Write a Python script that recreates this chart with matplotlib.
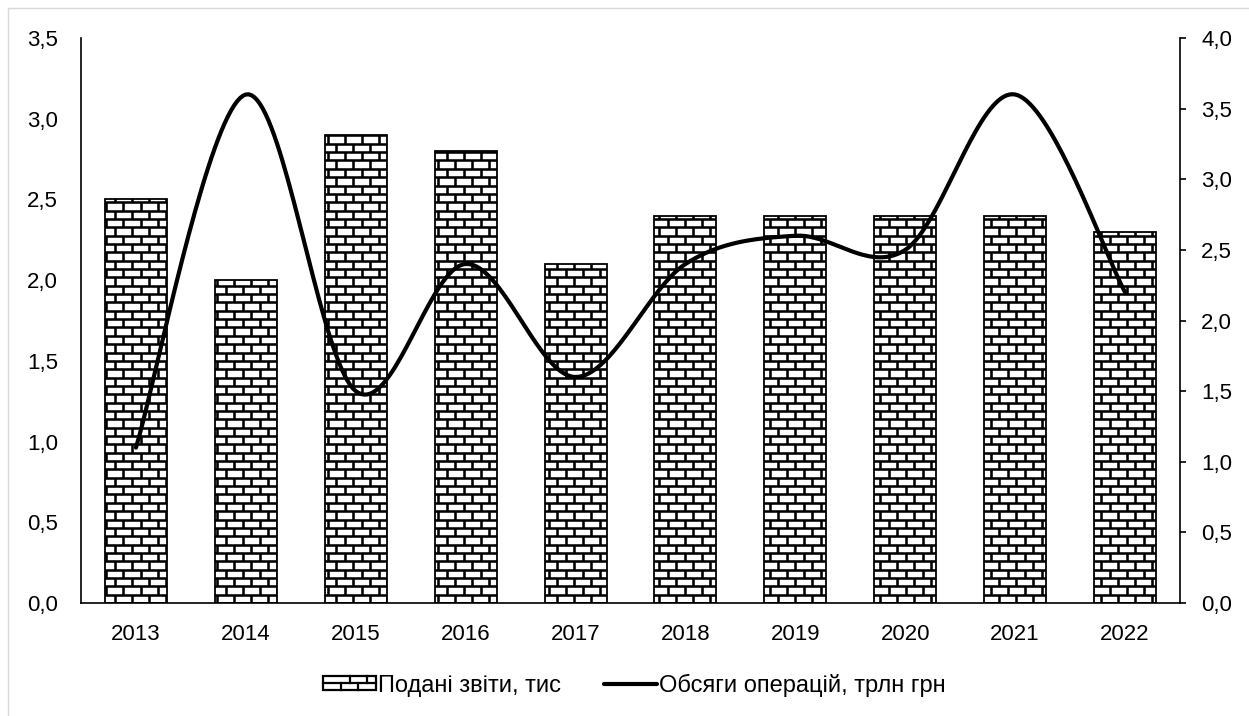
import matplotlib

matplotlib.use("Agg")
import matplotlib.pyplot as plt
import numpy as np
from matplotlib.collections import LineCollection
from matplotlib.legend_handler import HandlerBase
from matplotlib.lines import Line2D
from matplotlib.patches import Rectangle
from matplotlib.transforms import IdentityTransform

plt.rcParams["font.family"] = ["Liberation Sans", "DejaVu Sans"]

years = ["2013", "2014", "2015", "2016", "2017", "2018", "2019", "2020", "2021", "2022"]
reports = [2.5, 2.0, 2.9, 2.8, 2.1, 2.4, 2.4, 2.4, 2.4, 2.3]
volumes = [1.1, 3.6, 1.5, 2.4, 1.6, 2.4, 2.6, 2.5, 3.6, 2.2]

left_ticks = [0.0, 0.5, 1.0, 1.5, 2.0, 2.5, 3.0, 3.5]
right_ticks = [0.0, 0.5, 1.0, 1.5, 2.0, 2.5, 3.0, 3.5, 4.0]

BAR_LABEL = "Подані звіти, тис"
LINE_LABEL = "Обсяги операцій, трлн грн"

W, H, DPI = 1249, 716, 100
FS = 16
BRICK_W, BRICK_H, BRICK_LW = 17.0, 8.35, 1.85


def smooth_curve(x, y, steps=40):
    """Bezier spline through the points, like a spreadsheet 'smoothed line'."""
    p = np.column_stack([x, y]).astype(float)
    n = len(p)
    out = [p[0]]
    for i in range(n - 1):
        p0 = p[i - 1] if i > 0 else p[i]
        p1, p2 = p[i], p[i + 1]
        p3 = p[i + 2] if i + 2 < n else p[i + 1]
        c1 = p1 + (p2 - p0) / 6.0
        c2 = p2 - (p3 - p1) / 6.0
        t = np.linspace(0, 1, steps)[1:, None]
        seg = ((1 - t) ** 3) * p1 + 3 * ((1 - t) ** 2) * t * c1 + 3 * (1 - t) * t ** 2 * c2 + t ** 3 * p2
        out.extend(seg)
    out = np.array(out)
    return out[:, 0], out[:, 1]


def brick_segments(x0, y0, x1, y1, ox, oy):
    """Mortar lines of a brick pattern (display pixels) anchored at (ox, oy)."""
    segs = []
    k0 = int(np.floor((y0 - oy) / BRICK_H)) - 1
    k1 = int(np.ceil((y1 - oy) / BRICK_H)) + 1
    for k in range(k0, k1):
        yb = oy + k * BRICK_H
        segs.append([(x0 - 2, yb), (x1 + 2, yb)])
        shift = (k % 2) * BRICK_W / 2
        m0 = int(np.floor((x0 - ox - shift) / BRICK_W)) - 1
        m1 = int(np.ceil((x1 - ox - shift) / BRICK_W)) + 1
        for m in range(m0, m1):
            xv = ox + shift + m * BRICK_W
            segs.append([(xv, yb), (xv, yb + BRICK_H)])
    return segs


class HandlerBrick(HandlerBase):
    def create_artists(self, legend, orig_handle, xdescent, ydescent, width, height, fontsize, trans):
        artists = []
        rect = Rectangle((-xdescent, -ydescent), width, height, facecolor="white",
                         edgecolor="black", linewidth=1.6, transform=trans)
        artists.append(rect)
        rows = 2
        rh = height / rows
        bw = width / 3.0
        for r in range(rows):
            yb = -ydescent + r * rh
            if r > 0:
                artists.append(Line2D([-xdescent, -xdescent + width], [yb, yb], color="black",
                                      linewidth=1.6, transform=trans))
            shift = bw / 2 if r % 2 else 0
            xv = -xdescent + shift + bw
            while xv < -xdescent + width - 0.5:
                artists.append(Line2D([xv, xv], [yb, yb + rh], color="black",
                                      linewidth=1.6, transform=trans))
                xv += bw
        return artists


fig = plt.figure(figsize=(W / DPI, H / DPI), dpi=DPI)
ax = fig.add_axes([81 / W, 1 - 603 / H, (1180 - 81) / W, (603 - 38) / H])
ax2 = ax.twinx()

x = np.arange(len(years))
bars = ax.bar(x, reports, width=0.565, facecolor="white", edgecolor="black", linewidth=1.3,
              label=BAR_LABEL, zorder=2)

ax.set_xlim(-0.5, len(years) - 0.5)
ax.set_ylim(0, 3.5)
ax.set_yticks(left_ticks)
ax.set_yticklabels([f"{v:.1f}".replace(".", ",") for v in left_ticks])
ax.set_xticks(x)
ax.set_xticklabels(years)
ax.tick_params(axis="y", length=0, pad=16.5, labelsize=FS)
ax.tick_params(axis="x", length=0, pad=15, labelsize=FS)
for side in ("top", "right"):
    ax.spines[side].set_visible(False)
for side in ("left", "bottom"):
    ax.spines[side].set_linewidth(1.2)

sx, sy = smooth_curve(x, volumes)
ax2.plot(sx, sy, color="black", linewidth=3.0, solid_capstyle="round", label=LINE_LABEL, zorder=3)
ax2.set_ylim(0, 4.0)
ax2.set_yticks(right_ticks)
ax2.set_yticklabels([f"{v:.1f}".replace(".", ",") for v in right_ticks])
ax2.tick_params(axis="y", direction="out", length=4.3, width=1.2, pad=11, labelsize=FS)
for side in ("top", "left", "bottom"):
    ax2.spines[side].set_visible(False)
ax2.spines["right"].set_linewidth(1.2)

# brick fill for each bar, drawn in pixel space and clipped to the bar
fig.canvas.draw()
ox, oy = ax.transData.transform((-0.5, 0.0))
for bar in bars:
    (bx0, by0), (bx1, by1) = ax.transData.transform(
        [(bar.get_x(), 0.0), (bar.get_x() + bar.get_width(), bar.get_height())])
    lc = LineCollection(brick_segments(bx0, by0, bx1, by1, ox, oy), colors="black",
                        linewidths=BRICK_LW, transform=IdentityTransform(), zorder=2.5)
    ax.add_collection(lc, autolim=False)
    lc.set_clip_path(bar)

handles = [Rectangle((0, 0), 1, 1),
           Line2D([0], [0], color="black", linewidth=3.0, solid_capstyle="round")]
fig.legend(handles, [BAR_LABEL, LINE_LABEL], loc="center", bbox_to_anchor=(0.508, 1 - 685 / H),
           ncol=2, frameon=False, fontsize=17, handlelength=2.25, handleheight=0.55,
           handletextpad=0.1, columnspacing=1.8, handler_map={Rectangle: HandlerBrick()})

# thin grey chart border
fig.add_artist(Line2D([8 / W, 1.0], [1 - 8 / H, 1 - 8 / H], color="#d9d9d9", linewidth=1.0,
                      transform=fig.transFigure))
fig.add_artist(Line2D([8 / W, 8 / W], [0.0, 1 - 8 / H], color="#d9d9d9", linewidth=1.0,
                      transform=fig.transFigure))

fig.savefig("out.png", dpi=DPI)
